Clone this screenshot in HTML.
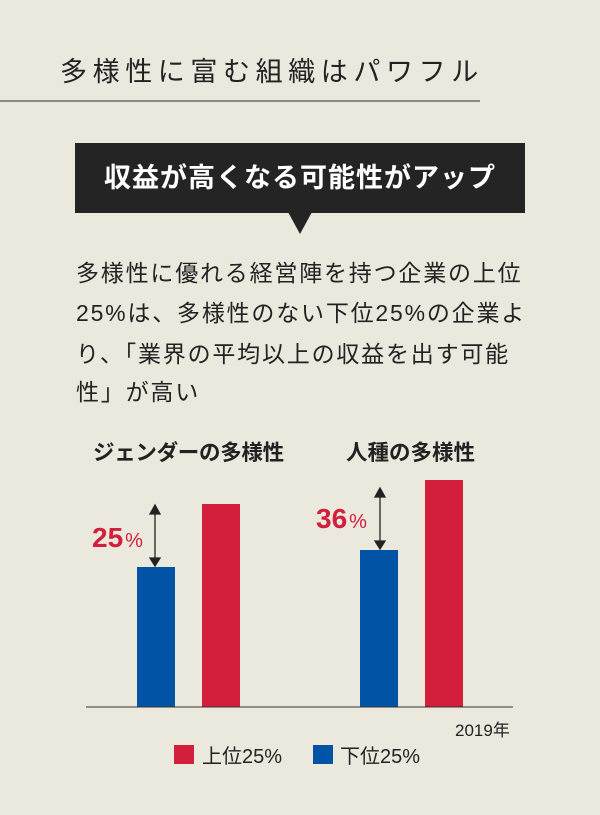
<!DOCTYPE html>
<html><head><meta charset="utf-8"><style>
body{margin:0;width:600px;height:815px;background:#ebe8de;position:relative;overflow:hidden;font-family:"Liberation Sans","Noto Sans CJK JP",sans-serif;color:#222}
.a{position:absolute;white-space:nowrap}
.b{position:absolute;left:76px;font-size:23px;letter-spacing:1.8px;line-height:40px;white-space:nowrap}
</style></head><body>
<div class="a" style="left:60px;top:54px;font-size:27px;letter-spacing:5.6px;line-height:36px">多様性に富む組織はパワフル</div>
<div class="a" style="left:0;top:100px;width:480px;height:2px;background:#888"></div>
<div class="a" style="left:75px;top:143px;width:450px;height:70px;background:#242424"></div>
<div class="a" style="left:288px;top:212px;width:0;height:0;border-left:12px solid transparent;border-right:12px solid transparent;border-top:22px solid #242424"></div>
<div class="a" style="left:75px;top:143px;width:450px;height:70px;line-height:70px;text-align:center;color:#fff;font-weight:bold;font-size:27px;letter-spacing:1px">収益が高くなる可能性がアップ</div>
<div class="b" style="top:253px">多様性に優れる経営陣を持つ企業の上位</div>
<div class="b" style="top:293px">25%は、多様性のない下位25%の企業よ</div>
<div class="b" style="top:334px">り、「業界の平均以上の収益を出す可能</div>
<div class="b" style="top:372px">性」が高い</div>
<div class="a" style="left:93px;top:436px;font-size:21.5px;font-weight:bold;letter-spacing:-0.3px">ジェンダーの多様性</div>
<div class="a" style="left:346px;top:436px;font-size:21.5px;font-weight:bold">人種の多様性</div>
<svg class="a" style="left:0;top:0" width="600" height="815">
<rect x="137" y="567" width="38" height="140" fill="#0053a5"/>
<rect x="202" y="504" width="38" height="203" fill="#d31f3c"/>
<rect x="360" y="550" width="38" height="157" fill="#0053a5"/>
<rect x="425" y="480" width="38" height="227" fill="#d31f3c"/>
<line x1="86" y1="707" x2="513" y2="707" stroke="#333" stroke-width="1"/>
<g fill="#222" stroke="#222" stroke-width="1.3">
<line x1="155" y1="510" x2="155" y2="562"/>
<polygon points="150,514 160,514 155,505"/><polygon points="150,558 160,558 155,566"/>
<line x1="380" y1="493" x2="380" y2="545"/>
<polygon points="375,497 385,497 380,488"/><polygon points="375,541 385,541 380,549"/>
</g>
<text x="92" y="547" fill="#d31f3c" font-size="28" font-weight="bold" font-family="Liberation Sans,sans-serif">25<tspan font-size="20" font-weight="normal" dx="2">%</tspan></text>
<text x="316" y="528" fill="#d31f3c" font-size="28" font-weight="bold" font-family="Liberation Sans,sans-serif">36<tspan font-size="20" font-weight="normal" dx="2">%</tspan></text>
<text x="455" y="736" fill="#222" font-size="17" font-family="Liberation Sans,Noto Sans CJK JP,sans-serif">2019年</text>
<rect x="174" y="745" width="20" height="19" fill="#d31f3c"/>
<rect x="313" y="745" width="20" height="19" fill="#0053a5"/>
<text x="202" y="763" fill="#222" font-size="20" font-family="Liberation Sans,Noto Sans CJK JP,sans-serif">上位25%</text>
<text x="340" y="763" fill="#222" font-size="20" font-family="Liberation Sans,Noto Sans CJK JP,sans-serif">下位25%</text>
</svg>
</body></html>
